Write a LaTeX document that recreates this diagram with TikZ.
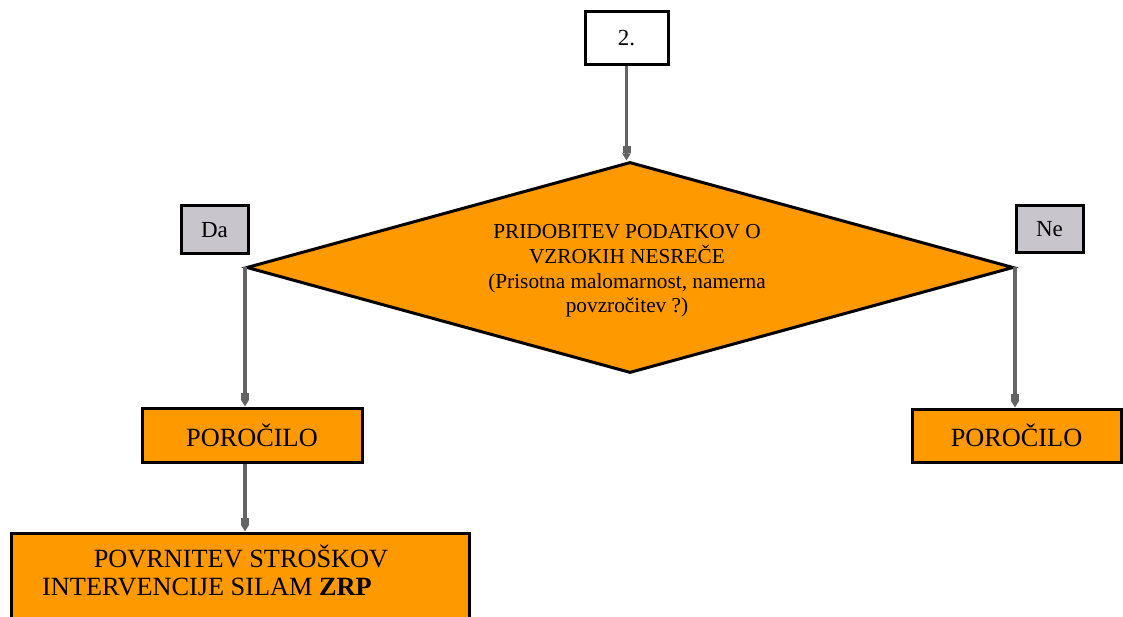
\documentclass[tikz,border=0pt]{standalone}
\usepackage{fontspec}
\setmainfont{Liberation Serif}
\usetikzlibrary{shapes.geometric,arrows.meta}
\definecolor{orangefill}{RGB}{255,153,0}
\definecolor{grayfill}{RGB}{200,198,204}
\definecolor{arrowgray}{RGB}{100,100,100}
\tikzset{
  box/.style={draw=black, line width=3pt, rectangle, inner sep=0pt},
  orangebox/.style={box, fill=orangefill},
  labelbox/.style={box, fill=grayfill, font=\fontsize{23}{27}\selectfont},
  boxtext/.style={font=\fontsize{26.3}{30}\selectfont, inner sep=0pt},
  conn/.style={draw=arrowgray, line width=3.2pt, -{Rectangle[length=7pt,width=8pt]Triangle[length=7pt,width=8pt]}},
}
\begin{document}
\begin{tikzpicture}[x=1pt,y=-1pt]
\clip (0,0) rectangle (1123,617);
\fill[white] (0,0) rectangle (1123,617);

\node[box, fill=white, minimum width=83pt, minimum height=53pt, font=\fontsize{23}{27}\selectfont] (two) at (626.5,38) {2.};

\node[draw=black, line width=3pt, fill=orangefill, shape=diamond, inner sep=0pt,
      minimum width=767pt, minimum height=211pt] (q) at (630,267.5) {};
\node[align=center, font=\fontsize{21.3}{24.7}\selectfont, inner sep=0pt] (qt) at (627,271)
  {PRIDOBITEV PODATKOV O\\VZROKIH NESREČE\\(Prisotna malomarnost, namerna\\povzročitev ?)};

\node[labelbox, minimum width=67pt, minimum height=48pt] (da) at (214.5,230) {Da};
\node[labelbox, minimum width=67pt, minimum height=47pt] (ne) at (1049.5,229.5) {Ne};

\node[orangebox, minimum width=220pt, minimum height=54pt, boxtext] (p1) at (252,435) {POROČILO};
\node[orangebox, minimum width=209pt, minimum height=53pt, boxtext] (p2) at (1016.5,435.5) {POROČILO};

\node[orangebox, minimum width=458pt, minimum height=130pt] (p3) at (240,598) {};
\node[boxtext, anchor=base] (p3a) at (241,567) {POVRNITEV STROŠKOV};
\node[boxtext, anchor=base west] (p3b) at (42,595) {INTERVENCIJE SILAM \textbf{ZRP}};

\draw[conn] (two.south) -- (two.south |- q.north);
\draw[conn] (q.west) -- (q.west |- p1.north);
\draw[conn] (q.east) -- (q.east |- p2.north);
\draw[conn] (q.west |- p1.south) -- (q.west |- p3.north);
\end{tikzpicture}
\end{document}
